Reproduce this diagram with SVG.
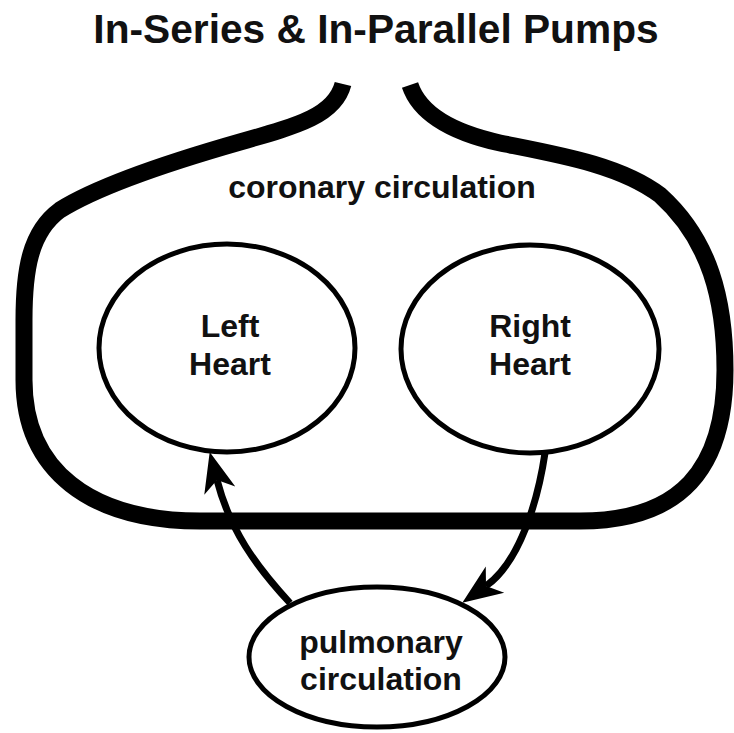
<svg xmlns="http://www.w3.org/2000/svg" width="734" height="733" viewBox="0 0 734 733">
<style>
text{font-family:"Liberation Sans",Arial,sans-serif;font-weight:bold;fill:#111;text-anchor:middle}
.lbl{font-size:32px}
.node{fill:#fff;stroke:#000;stroke-width:5}
.conn{fill:none;stroke:#000;stroke-width:7}
</style>
<defs>
<marker id="ah" viewBox="0 0 40 34" refX="11" refY="17" markerWidth="40" markerHeight="34" markerUnits="userSpaceOnUse" orient="auto">
<path d="M0,1 L40,17 L0,33 L11,17 Z" fill="#000"/>
</marker>
</defs>
<rect width="734" height="733" fill="#fff"/>
<text x="376" y="43" style="font-size:40.7px">In-Series &amp; In-Parallel Pumps</text>
<g id="coronary">
<path d="M 343,84 C 335,115 300,125 240,142 C 170,162 100,185 60,210 C 30,232 24,270 24,320 L 24,380 C 24,470 90,521 200,521 L 580,521 C 680,521 725,470 725,370 C 725,300 710,240 660,195 C 620,165 560,155 500,143 C 455,133 420,115 410,85" fill="none" stroke="#000" stroke-width="17"/>
<text class="lbl" x="382" y="198">coronary circulation</text>
</g>
<g id="connectors">
<path class="conn" d="M 290,603 C 255,565 230,530 217,480" marker-end="url(#ah)"/>
<path class="conn" d="M 545,453 C 538,500 520,562 486,586" marker-end="url(#ah)"/>
</g>
<g id="left-heart">
<ellipse class="node" cx="227" cy="348" rx="128" ry="104"/>
<text class="lbl" x="230" y="337">Left</text>
<text class="lbl" x="230" y="375">Heart</text>
</g>
<g id="right-heart">
<ellipse class="node" cx="530" cy="349" rx="129" ry="104"/>
<text class="lbl" x="530" y="337">Right</text>
<text class="lbl" x="530" y="375">Heart</text>
</g>
<g id="pulmonary">
<ellipse class="node" cx="377" cy="657" rx="128" ry="70"/>
<text class="lbl" x="381" y="653">pulmonary</text>
<text class="lbl" x="381" y="690">circulation</text>
</g>
</svg>
